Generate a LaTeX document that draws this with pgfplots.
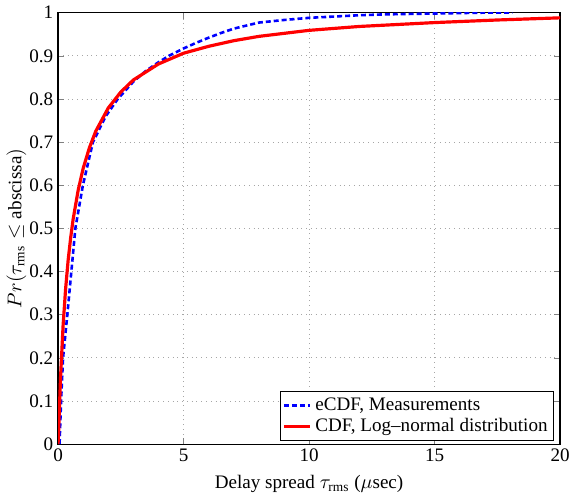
\documentclass[border=0pt]{standalone}
\usepackage{fontspec}
\setmainfont{Liberation Serif}
\usepackage{pgfplots}
\pgfplotsset{compat=1.18}

\begin{document}
\fontsize{9.6}{11.5}\selectfont
\begin{tikzpicture}
\begin{axis}[
    width=252.5pt, height=217pt,
    scale only axis,
    xmin=0, xmax=20,
    ymin=0, ymax=1,
    xtick={0,5,10,15,20},
    ytick={0,0.1,0.2,0.3,0.4,0.5,0.6,0.7,0.8,0.9,1},
    yticklabels={0,0.1,0.2,0.3,0.4,0.5,0.6,0.7,0.8,0.9,1},
    /pgf/number format/assume math mode=true,
    tick align=inside,
    tick pos=both,
    major tick length=3pt,
    grid=major,
    grid style={gray!70, dotted, line width=0.4pt},
    axis line style={line width=0.6pt},
    xticklabel style={yshift=1pt},
    yticklabel style={xshift=1pt},
    xlabel={Delay spread $\tau_{\rm rms}$ ($\mu$sec)},
    ylabel={$Pr(\tau_{\rm rms}\leq \mathrm{abscissa})$},
    xlabel style={yshift=0pt},
    ylabel style={yshift=-5pt},
    legend style={at={(0.988,0.008)}, anchor=south east, draw=black,
        line width=0.5pt, inner sep=1pt, row sep=-1.5pt,
        font=\fontsize{9.6}{11}\selectfont},
    legend cell align=left,
    legend image code/.code={\draw[#1] (0pt,0pt) -- (13pt,0pt);},
]
% eCDF, measurements
\addplot[blue, line width=1.3pt, dash pattern=on 2.5pt off 1.5pt] table {
x y
0.06 0
0.12 0.1
0.2 0.2
0.37 0.3
0.53 0.4
0.69 0.5
0.99 0.6
1.39 0.7
1.9 0.76
2.38 0.8
3 0.84
3.5 0.865
4 0.885
4.42 0.9
5 0.917
5.5 0.93
6 0.942
6.5 0.953
7 0.963
7.5 0.97
8 0.977
9 0.983
10 0.988
11 0.991
12 0.994
13 0.996
14 0.997
15 0.998
16 0.999
17 1.0
18.1 1.0
};
\addlegendentry{eCDF, Measurements}
% CDF, log-normal fit
\addplot[red, line width=1.6pt] table {
x y
0 0
0.02 0.024
0.05 0.077
0.1 0.155
0.2 0.274
0.3 0.359
0.4 0.425
0.5 0.477
0.6 0.521
0.8 0.588
1.0 0.639
1.25 0.687
1.5 0.725
2 0.779
2.5 0.816
3 0.844
4 0.881
5 0.906
6 0.922
7 0.935
8 0.945
10 0.959
12 0.968
15 0.977
17.5 0.983
20 0.988
};
\addlegendentry{CDF, Log\textendash normal distribution}
\end{axis}
\end{tikzpicture}
\end{document}
